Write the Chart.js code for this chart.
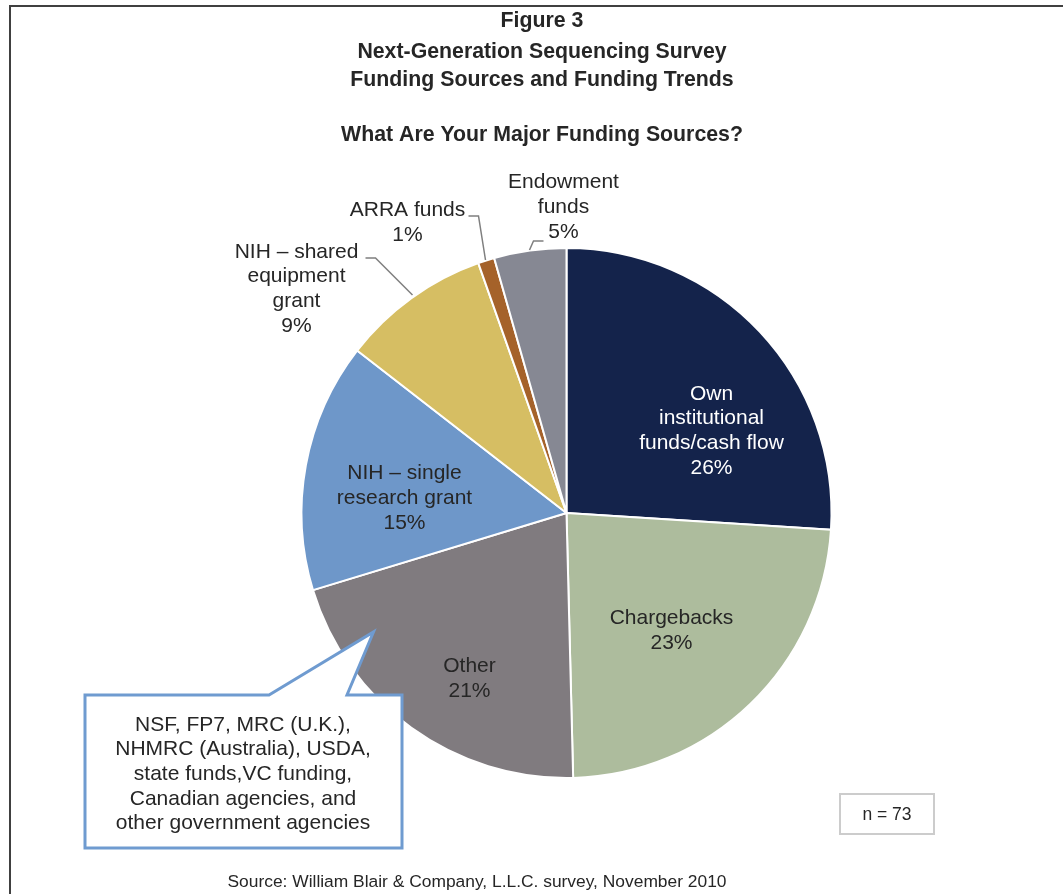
<!DOCTYPE html>
<html>
<head>
<meta charset="utf-8">
<script src="https://cdn.jsdelivr.net/npm/chart.js@4.4.0/dist/chart.umd.min.js"></script>
<style>
  html, body { margin: 0; padding: 0; background: #fff; }
  #chart { display: block; }
</style>
</head>
<body>
<canvas id="chart" width="1063" height="894"></canvas>
<script>
// data
const categories = [
    'Own institutional funds/cash flow',
    'Chargebacks',
    'Other',
    'NIH \u2013 single research grant',
    'NIH \u2013 shared equipment grant',
    'ARRA funds',
    'Endowment funds'
];
const shares = [26.0, 23.6, 20.7, 15.2, 9.1, 1.0, 4.4];
// percentages as printed on the figure
const printedPct = [26, 23, 21, 15, 9, 1, 5];
const sliceColors = ['#14234b', '#adbc9d', '#807b7f', '#6e97c9', '#d6be63', '#a5622a', '#868893'];

// how each label is broken into lines
const labelLines = [
    ['Own', 'institutional', 'funds/cash flow'],
    ['Chargebacks'],
    ['Other'],
    ['NIH \u2013 single', 'research grant'],
    ['NIH \u2013 shared', 'equipment', 'grant'],
    ['ARRA funds'],
    ['Endowment', 'funds']
];
const calloutLines = [
    'NSF, FP7, MRC (U.K.),',
    'NHMRC (Australia), USDA,',
    'state funds,VC funding,',
    'Canadian agencies, and',
    'other government agencies'
];
const sampleSize = 73;

const titleLines = [
    'Figure 3',
    'Next-Generation Sequencing Survey',
    'Funding Sources and Funding Trends'
];
const subtitle = 'What Are Your Major Funding Sources?';
const sourceNote = 'Source: William Blair & Company, L.L.C. survey, November 2010';

const TEXT = '#262626';
const FONT = '"Liberation Sans", Arial, sans-serif';

// label placement relative to the pie centre (dx, dy), plus leader lines
const labelSpots = [
    { dx: 145, dy: -82, color: '#ffffff' },
    { dx: 105, dy: 118 },
    { dx: -97, dy: 166 },
    { dx: -162, dy: -15 },
    { dx: -270, dy: -224, leader: [[-201, -255], [-191, -255], [-154, -218]] },
    { dx: -159, dy: -290, leader: [[-98, -297], [-88, -297], [-81, -253]] },
    { dx: -3, dy: -306, leader: [[-23, -272], [-33, -272], [-37, -263]] }
];

const decorPlugin = {
    id: 'decor',
    beforeDraw(chart) {
        const ctx = chart.ctx;
        ctx.save();
        ctx.fillStyle = '#fff';
        ctx.fillRect(0, 0, chart.width, chart.height);
        // frame (only top and left edges show)
        ctx.strokeStyle = '#404040';
        ctx.lineWidth = 2;
        ctx.beginPath();
        ctx.moveTo(10, chart.height);
        ctx.lineTo(10, 6);
        ctx.lineTo(chart.width, 6);
        ctx.stroke();

        ctx.fillStyle = TEXT;
        ctx.textAlign = 'center';
        ctx.textBaseline = 'middle';
        ctx.font = 'bold 21.3px ' + FONT;
        const ty = [21, 52, 80];
        titleLines.forEach((t, i) => ctx.fillText(t, 542, ty[i]));
        ctx.fillText(subtitle, 542, 135);

        ctx.font = '17.4px ' + FONT;
        ctx.fillText(sourceNote, 477, 882);
        ctx.restore();
    },
    afterDatasetsDraw(chart) {
        const ctx = chart.ctx;
        const arcs = chart.getDatasetMeta(0).data;
        const cx = arcs[0].x, cy = arcs[0].y;
        const lh = 24.8;
        ctx.save();
        ctx.textAlign = 'center';
        ctx.textBaseline = 'middle';
        ctx.font = '21px ' + FONT;
        labelSpots.forEach((s, i) => {
            const lines = labelLines[i].concat([printedPct[i] + '%']);
            const x = cx + s.dx;
            const y0 = cy + s.dy - (lines.length - 1) * lh / 2;
            ctx.fillStyle = s.color || TEXT;
            lines.forEach((l, j) => ctx.fillText(l, x, y0 + j * lh));
            if (s.leader) {
                ctx.strokeStyle = '#7f7f7f';
                ctx.lineWidth = 1.5;
                ctx.beginPath();
                s.leader.forEach((p, k) => {
                    if (k === 0) ctx.moveTo(cx + p[0], cy + p[1]);
                    else ctx.lineTo(cx + p[0], cy + p[1]);
                });
                ctx.stroke();
            }
        });

        // callout for "Other"
        const bx0 = 85, by0 = 695, bx1 = 402, by1 = 848;
        ctx.strokeStyle = '#6f9bd0';
        ctx.lineWidth = 3;
        ctx.lineJoin = 'miter';
        ctx.beginPath();
        ctx.moveTo(bx0, by0);
        ctx.lineTo(269, by0);
        ctx.lineTo(cx - 193, cy + 119);
        ctx.lineTo(347, by0);
        ctx.lineTo(bx1, by0);
        ctx.lineTo(bx1, by1);
        ctx.lineTo(bx0, by1);
        ctx.closePath();
        ctx.fillStyle = '#fff';
        ctx.fill();
        ctx.stroke();
        ctx.fillStyle = TEXT;
        ctx.font = '21px ' + FONT;
        calloutLines.forEach((l, j) => ctx.fillText(l, 243, 725 + j * 24.6));

        // sample size box
        ctx.strokeStyle = '#cccccc';
        ctx.lineWidth = 2;
        ctx.strokeRect(840, 794, 94, 40);
        ctx.font = '17.5px ' + FONT;
        ctx.fillText('n = ' + sampleSize, 887, 815);
        ctx.restore();
    }
};

const chart = new Chart(document.getElementById('chart').getContext('2d'), {
    type: 'pie',
    data: {
        labels: categories,
        datasets: [{
            data: shares,
            backgroundColor: sliceColors,
            borderColor: '#ffffff',
            borderWidth: 2
        }]
    },
    options: {
        responsive: false,
        animation: false,
        events: [],
        layout: { padding: { left: 300, right: 230, top: 247, bottom: 115 } },
        plugins: {
            legend: { display: false },
            tooltip: { enabled: false }
        }
    },
    plugins: [decorPlugin]
});
</script>
</body>
</html>
